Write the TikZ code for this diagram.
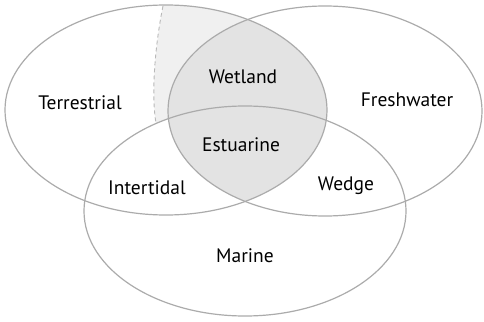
\documentclass[tikz,border=0pt]{standalone}
\usepackage{fontspec}
\setmainfont{PT Sans}
\usetikzlibrary{positioning}

\tikzset{
  zone/.style={draw=black!33, line width=1.2pt},
  zonefill/.style={x radius=161pt, y radius=105pt},
  lbl/.style={font=\fontsize{19.5}{22}\selectfont, inner sep=0pt}
}

\begin{document}
\begin{tikzpicture}[x=1pt,y=-1pt]
  \useasboundingbox (0,0) rectangle (484,321);
  % centres of the three ellipses (pixel grid, y downwards)
  \coordinate (terr) at (166,110);
  \coordinate (fresh) at (325,111);
  \coordinate (mar) at (245,211);
  % ends of the dashed limit inside Terrestrial
  \coordinate (dtop) at (163,6);
  \coordinate (dbot) at (156,123);
  % light grey: Terrestrial, right of the dashed limit
  \begin{scope}
    \clip (dtop) .. controls (155,45) and (151,95) .. (dbot) -- (156,330) -- (490,330) -- (490,-10) -- (163,-10) -- cycle;
    \fill[gray!12] (terr) ellipse [zonefill];
  \end{scope}
  \fill[white] (mar) ellipse [zonefill];
  % Wetland = Terrestrial and Freshwater
  \begin{scope}
    \clip (terr) ellipse [zonefill];
    \fill[gray!22] (fresh) ellipse [zonefill, x radius=157pt];
  \end{scope}
  \draw[black!28, line width=0.9pt, dash pattern=on 4pt off 3pt] (dtop) .. controls (155,45) and (151,95) .. (dbot);
  % outlines
  \draw[zone] (terr) ellipse [zonefill];
  \draw[zone] (fresh) ellipse [zonefill, x radius=157pt];
  \draw[zone] (mar) ellipse [zonefill];
  % labels
  \node[lbl] (terrestrial) at (80,103) {Terrestrial};
  \node[lbl] (freshwater) at (407,100) {Freshwater};
  \node[lbl] (wetland) at (243,77) {Wetland};
  \node[lbl] (estuarine) at (241,145) {Estuarine};
  \node[lbl] (intertidal) at (147,188) {Intertidal};
  \node[lbl] (wedge) at (346,186) {Wedge};
  \node[lbl] (marine) at (245,256) {Marine};
\end{tikzpicture}
\end{document}
